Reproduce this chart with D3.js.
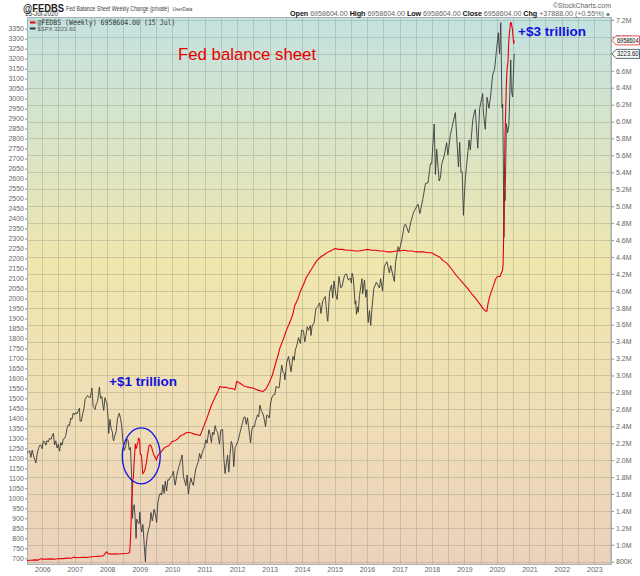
<!DOCTYPE html>
<html>
<head>
<meta charset="utf-8">
<script src="https://cdn.jsdelivr.net/npm/d3@7"></script>
<style>
  body { margin: 0; background: #fff; }
  svg { display: block; }
  .axis text { font-family: "Liberation Sans", Arial, sans-serif; font-size: 7px; fill: #666; }
  .axis line { stroke: #8a8f96; }
  .axis path { display: none; }
</style>
</head>
<body>
<script>
var width = 640, height = 576;
var plot = {left: 27, right: 612, top: 17, bottom: 565};

// axis ticks
var yearTicks = d3.range(2006, 2024);
var spxTicks = d3.range(700, 3351, 50);
var fedTicks = d3.range(800000, 7200001, 200000);

// $SPX weekly closes
var spx = [
  ["2005-07-15",1228],["2005-07-29",1234],["2005-08-12",1237],["2005-08-26",1205],["2005-09-09",1241],["2005-09-23",1215],
  ["2005-10-07",1196],["2005-10-21",1177],["2005-11-04",1220],["2005-11-18",1248],["2005-12-02",1265],["2005-12-16",1267],["2005-12-30",1248],
  ["2006-01-13",1287],["2006-01-27",1284],["2006-02-10",1266],["2006-02-24",1289],["2006-03-10",1282],["2006-03-24",1302],["2006-04-07",1295],
  ["2006-04-21",1311],["2006-05-05",1325],["2006-05-19",1267],["2006-06-02",1288],["2006-06-16",1252],["2006-06-30",1270],["2006-07-14",1236],
  ["2006-07-28",1279],["2006-08-11",1266],["2006-08-25",1296],["2006-09-08",1299],["2006-09-22",1314],["2006-10-06",1350],["2006-10-20",1368],
  ["2006-11-03",1364],["2006-11-17",1401],["2006-12-01",1396],["2006-12-15",1427],["2006-12-29",1418],
  ["2007-01-12",1430],["2007-01-26",1423],["2007-02-09",1438],["2007-02-23",1451],["2007-03-02",1387],["2007-03-16",1386],["2007-03-30",1421],
  ["2007-04-13",1444],["2007-04-27",1494],["2007-05-11",1505],["2007-05-25",1515],["2007-06-08",1507],["2007-06-22",1503],["2007-07-06",1530],
  ["2007-07-13",1553],["2007-07-27",1459],["2007-08-10",1453],["2007-08-17",1445],["2007-08-31",1473],["2007-09-14",1484],["2007-09-28",1527],
  ["2007-10-05",1557],["2007-10-19",1500],["2007-11-02",1509],["2007-11-16",1458],["2007-11-23",1440],["2007-12-07",1504],["2007-12-21",1484],["2007-12-28",1478],
  ["2008-01-11",1401],["2008-01-18",1325],["2008-02-01",1395],["2008-02-15",1349],["2008-02-29",1331],["2008-03-07",1294],["2008-03-14",1288],
  ["2008-03-28",1316],["2008-04-11",1333],["2008-04-25",1398],["2008-05-16",1426],["2008-05-30",1400],["2008-06-13",1360],["2008-06-27",1278],
  ["2008-07-11",1240],["2008-07-25",1257],["2008-08-08",1296],["2008-08-22",1292],["2008-09-05",1242],["2008-09-19",1255],["2008-10-03",1099],
  ["2008-10-10",899],["2008-10-17",940],["2008-10-31",968],["2008-11-14",873],["2008-11-21",800],["2008-11-28",896],["2008-12-12",879],["2008-12-26",873],
  ["2009-01-02",931],["2009-01-16",850],["2009-01-23",832],["2009-02-06",869],["2009-02-20",770],["2009-03-06",683],["2009-03-13",756],
  ["2009-03-27",816],["2009-04-09",842],["2009-04-24",866],["2009-05-08",929],["2009-05-22",887],["2009-06-12",946],["2009-06-26",918],
  ["2009-07-10",879],["2009-07-24",979],["2009-08-07",1010],["2009-08-21",1026],["2009-09-04",1016],["2009-09-18",1068],["2009-10-02",1025],
  ["2009-10-16",1087],["2009-10-30",1036],["2009-11-13",1093],["2009-11-27",1091],["2009-12-11",1106],["2009-12-31",1115],
  ["2010-01-15",1136],["2010-01-29",1074],["2010-02-05",1066],["2010-02-19",1109],["2010-03-05",1138],["2010-03-19",1159],["2010-04-09",1194],
  ["2010-04-23",1217],["2010-05-07",1110],["2010-05-21",1087],["2010-06-04",1064],["2010-06-18",1117],["2010-07-02",1022],["2010-07-16",1065],
  ["2010-07-30",1102],["2010-08-13",1079],["2010-08-27",1065],["2010-09-10",1110],["2010-09-24",1148],["2010-10-08",1166],["2010-10-22",1183],
  ["2010-11-05",1225],["2010-11-19",1199],["2010-12-03",1224],["2010-12-17",1244],["2010-12-31",1258],
  ["2011-01-14",1293],["2011-01-28",1276],["2011-02-18",1343],["2011-03-04",1321],["2011-03-18",1279],["2011-04-01",1332],["2011-04-15",1319],
  ["2011-04-29",1364],["2011-05-13",1338],["2011-05-27",1331],["2011-06-17",1271],["2011-07-01",1340],["2011-07-22",1345],["2011-08-05",1199],
  ["2011-08-19",1124],["2011-09-02",1174],["2011-09-16",1216],["2011-09-30",1131],["2011-10-14",1224],["2011-10-28",1285],["2011-11-11",1264],
  ["2011-11-25",1159],["2011-12-09",1255],["2011-12-23",1265],
  ["2012-01-13",1289],["2012-01-27",1316],["2012-02-10",1343],["2012-02-24",1366],["2012-03-16",1404],["2012-03-30",1408],["2012-04-13",1370],
  ["2012-04-27",1403],["2012-05-11",1353],["2012-06-01",1278],["2012-06-15",1343],["2012-06-29",1362],["2012-07-13",1357],["2012-07-27",1386],
  ["2012-08-17",1418],["2012-08-31",1407],["2012-09-14",1466],["2012-09-28",1441],["2012-10-12",1428],["2012-10-26",1411],["2012-11-16",1359],
  ["2012-11-30",1416],["2012-12-14",1413],["2012-12-28",1402],
  ["2013-01-11",1472],["2013-01-25",1503],["2013-02-15",1519],["2013-03-01",1518],["2013-03-15",1561],["2013-04-05",1553],["2013-04-19",1555],
  ["2013-05-03",1614],["2013-05-17",1667],["2013-05-31",1631],["2013-06-14",1626],["2013-06-21",1593],["2013-07-12",1680],["2013-08-02",1710],
  ["2013-08-30",1633],["2013-09-20",1710],["2013-10-04",1691],["2013-10-18",1745],["2013-11-01",1762],["2013-11-22",1804],["2013-12-13",1775],["2013-12-27",1842],
  ["2014-01-17",1839],["2014-01-31",1783],["2014-02-07",1797],["2014-02-28",1859],["2014-03-14",1841],["2014-04-04",1865],["2014-04-11",1815],
  ["2014-04-25",1863],["2014-05-16",1878],["2014-06-06",1950],["2014-06-27",1961],["2014-07-18",1978],["2014-08-01",1925],["2014-08-22",1989],
  ["2014-09-19",2010],["2014-10-10",1906],["2014-10-17",1886],["2014-11-07",2032],["2014-11-28",2068],["2014-12-12",2002],["2014-12-26",2088],
  ["2015-01-16",2019],["2015-01-30",1995],["2015-02-20",2110],["2015-03-06",2071],["2015-03-13",2053],["2015-03-27",2061],["2015-04-24",2117],
  ["2015-05-15",2123],["2015-06-05",2092],["2015-06-26",2102],["2015-07-10",2077],["2015-07-17",2127],["2015-07-31",2104],["2015-08-21",1971],
  ["2015-08-28",1989],["2015-09-04",1921],["2015-09-18",1958],["2015-09-25",1931],["2015-10-09",2015],["2015-11-06",2099],["2015-11-13",2023],
  ["2015-12-04",2092],["2015-12-18",2006],["2015-12-31",2044],
  ["2016-01-08",1922],["2016-01-15",1880],["2016-01-29",1940],["2016-02-12",1865],["2016-02-26",1948],["2016-03-18",2050],["2016-04-15",2081],
  ["2016-05-20",2053],["2016-06-03",2099],["2016-06-24",2037],["2016-07-15",2162],["2016-08-12",2184],["2016-09-09",2128],["2016-09-23",2165],
  ["2016-11-04",2085],["2016-11-18",2182],["2016-12-16",2259],["2016-12-30",2239],
  ["2017-01-27",2295],["2017-02-24",2367],["2017-03-10",2372],["2017-04-13",2329],["2017-05-12",2390],["2017-06-09",2432],["2017-07-28",2472],
  ["2017-08-18",2425],["2017-09-22",2502],["2017-10-20",2575],["2017-11-17",2579],["2017-12-15",2675],["2017-12-29",2674],
  ["2018-01-26",2873],["2018-02-09",2620],["2018-02-23",2747],["2018-03-23",2588],["2018-04-06",2604],["2018-04-20",2670],["2018-05-18",2713],
  ["2018-06-15",2780],["2018-06-29",2718],["2018-07-27",2819],["2018-08-24",2875],["2018-09-21",2930],["2018-10-12",2767],["2018-10-26",2658],
  ["2018-11-09",2781],["2018-11-23",2633],["2018-12-07",2633],["2018-12-21",2416],["2018-12-28",2486],
  ["2019-01-11",2596],["2019-01-25",2665],["2019-02-22",2793],["2019-03-08",2743],["2019-04-05",2893],["2019-04-26",2940],["2019-05-03",2946],
  ["2019-05-31",2752],["2019-06-21",2950],["2019-07-26",3025],["2019-08-02",2932],["2019-08-23",2847],["2019-09-13",3007],["2019-10-04",2952],
  ["2019-10-25",3023],["2019-11-15",3120],["2019-12-06",3146],["2019-12-27",3240],
  ["2020-01-17",3330],["2020-01-31",3225],["2020-02-14",3380],["2020-02-28",2954],["2020-03-06",2972],["2020-03-13",2711],["2020-03-20",2305],
  ["2020-03-27",2541],["2020-04-03",2489],["2020-04-17",2875],["2020-05-01",2830],["2020-05-15",2864],["2020-06-05",3194],["2020-06-12",3041],
  ["2020-06-26",3009],["2020-07-10",3185],["2020-07-15",3224]
];

// @FEDBS weekly, millions of dollars
var fedbs = [
  ["2005-07-13",815000],["2005-08-24",818000],["2005-10-12",822000],["2005-11-16",819000],["2005-12-28",838000],["2006-01-11",828000],
  ["2006-02-22",831000],["2006-04-12",833000],["2006-05-24",829000],["2006-07-12",838000],["2006-08-23",836000],["2006-10-11",842000],
  ["2006-11-22",840000],["2006-12-27",856000],["2007-01-10",846000],["2007-02-21",849000],["2007-04-11",852000],["2007-05-23",850000],
  ["2007-07-11",858000],["2007-08-22",862000],["2007-10-10",866000],["2007-11-21",871000],["2007-12-26",918000],["2008-01-09",895000],
  ["2008-02-20",890000],["2008-04-09",893000],["2008-05-21",891000],["2008-07-09",896000],["2008-08-20",899000],["2008-09-10",906000],
  ["2008-09-17",1030000],["2008-09-24",1210000],["2008-10-01",1490000],["2008-10-08",1610000],["2008-10-15",1770000],["2008-10-22",1800000],
  ["2008-10-29",1960000],["2008-11-05",2070000],["2008-11-12",2190000],["2008-11-19",2140000],["2008-11-26",2140000],["2008-12-03",2190000],
  ["2008-12-10",2200000],["2008-12-17",2260000],["2008-12-31",2240000],["2009-01-07",2070000],["2009-01-21",2060000],["2009-02-04",1840000],
  ["2009-02-18",1860000],["2009-03-04",1900000],["2009-03-18",1980000],["2009-04-01",2080000],["2009-04-15",2170000],["2009-04-29",2180000],
  ["2009-05-13",2160000],["2009-05-27",2100000],["2009-06-10",2060000],["2009-06-24",2030000],["2009-07-08",2000000],["2009-07-22",2050000],
  ["2009-08-05",2070000],["2009-09-02",2100000],["2009-09-30",2140000],["2009-10-28",2160000],["2009-11-25",2170000],["2009-12-30",2220000],
  ["2010-02-03",2230000],["2010-03-03",2250000],["2010-04-07",2290000],["2010-05-05",2300000],["2010-06-02",2320000],["2010-07-07",2330000],
  ["2010-08-04",2320000],["2010-09-01",2310000],["2010-10-06",2300000],["2010-11-10",2290000],["2010-12-01",2340000],["2010-12-29",2420000],
  ["2011-01-26",2490000],["2011-02-23",2580000],["2011-03-23",2660000],["2011-04-27",2740000],["2011-05-25",2800000],["2011-06-22",2870000],
  ["2011-07-27",2860000],["2011-08-31",2860000],["2011-09-28",2850000],["2011-10-26",2850000],["2011-11-23",2840000],["2011-12-07",2830000],
  ["2011-12-28",2930000],["2012-01-18",2920000],["2012-02-15",2900000],["2012-03-14",2880000],["2012-04-04",2870000],["2012-05-16",2860000],
  ["2012-07-04",2850000],["2012-08-15",2830000],["2012-10-17",2810000],["2012-11-21",2840000],["2012-12-26",2910000],["2013-01-30",3000000],
  ["2013-03-06",3130000],["2013-04-03",3230000],["2013-05-01",3340000],["2013-06-05",3430000],["2013-07-03",3520000],["2013-08-21",3640000],
  ["2013-09-18",3720000],["2013-10-09",3820000],["2013-11-13",3900000],["2013-12-11",3990000],["2014-01-15",4070000],["2014-02-19",4160000],
  ["2014-03-26",4220000],["2014-05-07",4290000],["2014-06-18",4360000],["2014-07-30",4400000],["2014-09-10",4430000],["2014-10-22",4460000],
  ["2014-12-03",4480000],["2015-01-07",4500000],["2015-02-18",4490000],["2015-04-01",4490000],["2015-05-13",4480000],["2015-07-01",4480000],
  ["2015-08-19",4470000],["2015-10-07",4470000],["2015-11-18",4480000],["2016-01-06",4490000],["2016-02-24",4480000],["2016-04-06",4480000],
  ["2016-05-25",4470000],["2016-07-06",4470000],["2016-08-24",4460000],["2016-10-05",4460000],["2016-11-23",4470000],["2017-01-04",4470000],
  ["2017-02-22",4480000],["2017-04-05",4470000],["2017-05-24",4470000],["2017-07-05",4460000],["2017-08-23",4460000],["2017-10-04",4460000],
  ["2017-11-15",4450000],["2017-12-27",4450000],["2018-02-14",4420000],["2018-03-28",4400000],["2018-05-02",4360000],["2018-06-13",4330000],
  ["2018-08-01",4270000],["2018-09-26",4190000],["2018-11-07",4140000],["2018-12-26",4080000],["2019-02-13",4020000],["2019-03-27",3960000],
  ["2019-05-08",3910000],["2019-06-26",3840000],["2019-07-31",3790000],["2019-08-28",3760000],["2019-09-11",3760000],["2019-09-25",3860000],
  ["2019-10-23",3970000],["2019-11-20",4050000],["2019-12-18",4140000],["2020-01-08",4170000],["2020-02-05",4170000],["2020-03-04",4240000],
  ["2020-03-11",4310000],["2020-03-18",4670000],["2020-03-25",5250000],["2020-04-01",5810000],["2020-04-08",6080000],["2020-04-15",6370000],
  ["2020-04-22",6570000],["2020-04-29",6660000],["2020-05-06",6720000],["2020-05-13",6930000],["2020-05-20",7040000],["2020-05-27",7100000],
  ["2020-06-03",7170000],["2020-06-10",7170000],["2020-06-17",7130000],["2020-06-24",7090000],["2020-07-01",7000000],["2020-07-08",6920716],
  ["2020-07-15",6958604]
];

var parse = d3.timeParse("%Y-%m-%d");
var spxData = spx.map(function(d) { return {date: parse(d[0]), value: d[1]}; });
var fedData = fedbs.map(function(d) { return {date: parse(d[0]), value: d[1]}; });

var x = d3.scaleTime()
    .domain([new Date(2005, 6, 13), new Date(2023, 6, 19)])
    .range([plot.left, plot.right]);

var yL = d3.scaleLinear().domain([700, 3350]).range([558.3, 28.7]);      // $SPX
var yR = d3.scaleLinear().domain([800000, 7200000]).range([561.7, 20]); // @FEDBS

var fmtR = function(v) { return v < 1000000 ? (v / 1000) + "K" : (v / 1000000).toFixed(1) + "M"; };

var svg = d3.select("body").append("svg")
    .attr("width", width)
    .attr("height", height);

// background gradient
var grad = svg.append("defs").append("linearGradient")
    .attr("id", "bg").attr("x1", 0).attr("y1", 0).attr("x2", 0).attr("y2", 1);
grad.append("stop").attr("offset", "0%").attr("stop-color", "#c3e2e1");
grad.append("stop").attr("offset", "45%").attr("stop-color", "#efe6ad");
grad.append("stop").attr("offset", "70%").attr("stop-color", "#f0dfb5");
grad.append("stop").attr("offset", "100%").attr("stop-color", "#ebd1bd");

svg.append("rect")
    .attr("x", plot.left).attr("y", plot.top)
    .attr("width", plot.right - plot.left).attr("height", plot.bottom - plot.top)
    .attr("fill", "url(#bg)");

// grid
var grid = svg.append("g").attr("stroke", "#7d8470").attr("stroke-opacity", 0.3).attr("stroke-width", 1);
grid.selectAll(".vg")
    .data(x.ticks(d3.timeMonth.every(6)))
  .enter().append("line")
    .attr("x1", function(d) { return Math.round(x(d)) + 0.5; })
    .attr("x2", function(d) { return Math.round(x(d)) + 0.5; })
    .attr("y1", plot.top).attr("y2", plot.bottom);
grid.selectAll(".hg")
    .data(fedTicks)
  .enter().append("line")
    .attr("x1", plot.left).attr("x2", plot.right)
    .attr("y1", function(d) { return Math.round(yR(d)) + 0.5; })
    .attr("y2", function(d) { return Math.round(yR(d)) + 0.5; });

// border
svg.append("rect")
    .attr("x", plot.left + 0.5).attr("y", plot.top + 0.5)
    .attr("width", plot.right - plot.left - 1).attr("height", plot.bottom - plot.top - 1)
    .attr("fill", "none").attr("stroke", "#a9b0b8");

// axes
svg.append("g").attr("class", "axis")
    .attr("transform", "translate(" + plot.left + ",0)")
    .call(d3.axisLeft(yL).tickValues(spxTicks).tickFormat(d3.format("d")).tickSize(2).tickPadding(1));

svg.append("g").attr("class", "axis")
    .attr("transform", "translate(" + plot.right + ",0)")
    .call(d3.axisRight(yR).tickValues(fedTicks).tickFormat(fmtR).tickSize(2).tickPadding(2));

svg.append("g").attr("class", "axis")
    .attr("transform", "translate(0," + plot.bottom + ")")
    .call(d3.axisBottom(x)
        .tickValues(yearTicks.map(function(y) { return new Date(y, 0, 1); }))
        .tickFormat(d3.timeFormat("%Y"))
        .tickSize(0).tickPadding(2.5));

// lines
var lineL = d3.line().x(function(d) { return x(d.date); }).y(function(d) { return yL(d.value); });
var lineR = d3.line().x(function(d) { return x(d.date); }).y(function(d) { return yR(d.value); });

svg.append("path")
    .datum(spxData)
    .attr("fill", "none").attr("stroke", "#3a3a3a").attr("stroke-width", 0.9)
    .attr("stroke-linejoin", "round")
    .attr("d", lineL);

svg.append("path")
    .datum(fedData)
    .attr("fill", "none").attr("stroke", "#e8000b").attr("stroke-width", 1.1)
    .attr("stroke-linejoin", "round")
    .attr("d", lineR);

// last value tags on the right
var lastFed = fedData[fedData.length - 1], lastSpx = spxData[spxData.length - 1];
function tag(yv, stroke, label) {
  var g = svg.append("g").attr("transform", "translate(" + plot.right + "," + yv + ")");
  g.append("path")
      .attr("d", "M0,0 L4,-4.5 L27.5,-4.5 L27.5,4.5 L4,4.5 Z")
      .attr("fill", "#fafafa").attr("stroke", stroke).attr("stroke-width", 0.8);
  g.append("text")
      .attr("x", 5).attr("y", 2.6)
      .attr("font-family", "Liberation Sans, Arial, sans-serif").attr("font-size", 7.3)
      .attr("textLength", 21.5).attr("lengthAdjust", "spacingAndGlyphs")
      .attr("fill", "#111").text(label);
}
tag(yR(lastFed.value), "#e03030", Math.floor(lastFed.value));
tag(yL(lastSpx.value), "#2b4a55", "3223.60");

// legend
var leg = svg.append("g");
leg.append("line").attr("x1", 30).attr("x2", 35.5).attr("y1", 22.5).attr("y2", 22.5)
    .attr("stroke", "#e8000b").attr("stroke-width", 2);
leg.append("text").attr("x", 37.5).attr("y", 25)
    .attr("font-family", "DejaVu Sans Mono, monospace").attr("font-size", 7.5)
    .attr("textLength", 138).attr("lengthAdjust", "spacingAndGlyphs")
    .attr("fill", "#333").text("@FEDBS (Weekly) 6958604.00 (15 Jul)");
leg.append("line").attr("x1", 30).attr("x2", 35.5).attr("y1", 28.5).attr("y2", 28.5)
    .attr("stroke", "#333").attr("stroke-width", 2);
leg.append("text").attr("x", 37.5).attr("y", 31)
    .attr("font-family", "Liberation Sans, Arial, sans-serif").attr("font-size", 6)
    .attr("textLength", 38).attr("lengthAdjust", "spacingAndGlyphs")
    .attr("fill", "#555").text("$SPX 3223.60");

// header
var head = svg.append("g").attr("font-family", "Liberation Sans, Arial, sans-serif");
head.append("text").attr("x", 23).attr("y", 11.5)
    .attr("font-size", 11.5).attr("font-weight", "bold").attr("fill", "#222")
    .attr("textLength", 41).attr("lengthAdjust", "spacingAndGlyphs").text("@FEDBS");
head.append("text").attr("x", 66).attr("y", 10.5)
    .attr("font-size", 7.5).attr("fill", "#444")
    .attr("textLength", 103).attr("lengthAdjust", "spacingAndGlyphs")
    .text("Fed Balance Sheet Weekly Change (private)");
head.append("text").attr("x", 172.5).attr("y", 10.5)
    .attr("font-size", 5.5).attr("fill", "#444")
    .attr("textLength", 20).attr("lengthAdjust", "spacingAndGlyphs").text("UserData");
head.append("text").attr("x", 25).attr("y", 16.3)
    .attr("font-size", 7).attr("fill", "#333")
    .attr("textLength", 33).attr("lengthAdjust", "spacingAndGlyphs").text("15-Jul-2020");
head.append("text").attr("x", 553).attr("y", 8)
    .attr("font-size", 6.8).attr("fill", "#666")
    .attr("textLength", 58).attr("lengthAdjust", "spacingAndGlyphs").text("\u00a9StockCharts.com");

var quote = head.append("text").attr("x", 290).attr("y", 16.3).attr("font-size", 7.2)
    .attr("textLength", 314).attr("lengthAdjust", "spacing");
[["Open", "6958604.00"], ["High", "6958604.00"], ["Low", "6958604.00"], ["Close", "6958604.00"], ["Chg", "+37888.00 (+0.55%)"]]
  .forEach(function(p, i) {
    quote.append("tspan").attr("font-weight", "bold").attr("fill", "#111").text((i ? " " : "") + p[0] + " ");
    quote.append("tspan").attr("fill", "#666").text(p[1]);
  });
head.append("path").attr("d", "M606,15.5 L610,15.5 L608,12.5 Z").attr("fill", "#2a7a2a");

// annotations
svg.append("text").attr("x", 178).attr("y", 60)
    .attr("font-family", "Liberation Sans, Arial, sans-serif").attr("font-size", 16.8)
    .attr("fill", "#e50000").text("Fed balance sheet");
svg.append("text").attr("x", 109).attr("y", 385.5)
    .attr("font-family", "Liberation Sans, Arial, sans-serif").attr("font-size", 13.5).attr("font-weight", "bold")
    .attr("fill", "#1010e0").text("+$1 trillion");
svg.append("text").attr("x", 518).attr("y", 36)
    .attr("font-family", "Liberation Sans, Arial, sans-serif").attr("font-size", 13.5).attr("font-weight", "bold")
    .attr("fill", "#1010e0").text("+$3 trillion");
svg.append("ellipse")
    .attr("cx", x(new Date(2009, 0, 18))).attr("cy", yR(2050000))
    .attr("rx", 19).attr("ry", 28)
    .attr("fill", "none").attr("stroke", "#1414e6").attr("stroke-width", 1.3);
</script>
</body>
</html>
